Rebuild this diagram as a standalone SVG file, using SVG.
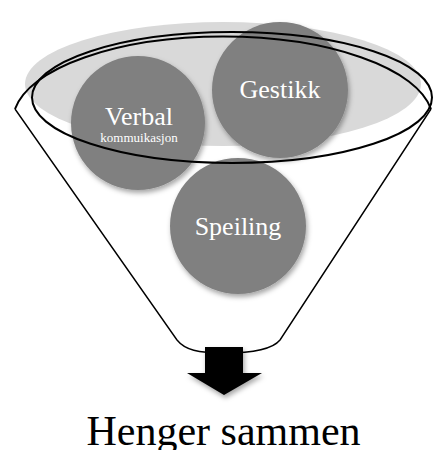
<svg xmlns="http://www.w3.org/2000/svg" width="435" height="450" viewBox="0 0 435 450">
  <style>
    .ball { fill: #808080; filter: url(#shadow); }
    .lbl { font-family: "Liberation Serif", "Times New Roman", serif; fill: #ffffff; text-anchor: middle; }
    .rim { fill: none; stroke: #000000; stroke-width: 2; }
    .side { fill: none; stroke: #000000; stroke-width: 1.4; stroke-linejoin: round; }
  </style>
  <defs>
    <filter id="shadow" x="-20%" y="-20%" width="150%" height="150%">
      <feDropShadow dx="1.5" dy="3" stdDeviation="2.5" flood-color="#000000" flood-opacity="0.35"/>
    </filter>
  </defs>
  <rect width="435" height="450" fill="#ffffff"/>

  <g id="bowl">
    <ellipse cx="223" cy="84" rx="198" ry="62" fill="#d9d9d9"/>
  </g>

  <g id="verbal">
    <circle class="ball" cx="138" cy="123" r="67"/>
    <text class="lbl" x="139" y="125" font-size="26">Verbal</text>
    <text class="lbl" x="139" y="142" font-size="13">kommuikasjon</text>
  </g>
  <g id="gestikk">
    <circle class="ball" cx="280" cy="90" r="68"/>
    <text class="lbl" x="280" y="98" font-size="26">Gestikk</text>
  </g>
  <g id="speiling">
    <circle class="ball" cx="238" cy="226" r="68"/>
    <text class="lbl" x="238" y="235" font-size="26">Speiling</text>
  </g>

  <g id="funnel">
    <path class="rim" d="M 15 109 A 210 84 0 0 1 431 109"/>
    <path class="side" d="M 15 109 L 177 340 C 185 350 198 353 224 353 C 250 353 272 350 280 340 L 431 109"/>
    <ellipse class="rim" cx="232" cy="97.5" rx="200" ry="65.5"/>
  </g>

  <g id="connectors">
    <path d="M 205 347 L 243 347 L 243 373 L 262 373 L 224 395 L 187 373 L 205 373 Z" fill="#000000" filter="url(#shadow)"/>
  </g>

  <g id="result">
    <text x="223.5" y="445" font-family="Liberation Serif, Times New Roman, serif" font-size="42" fill="#000000" text-anchor="middle">Henger sammen</text>
  </g>
</svg>
